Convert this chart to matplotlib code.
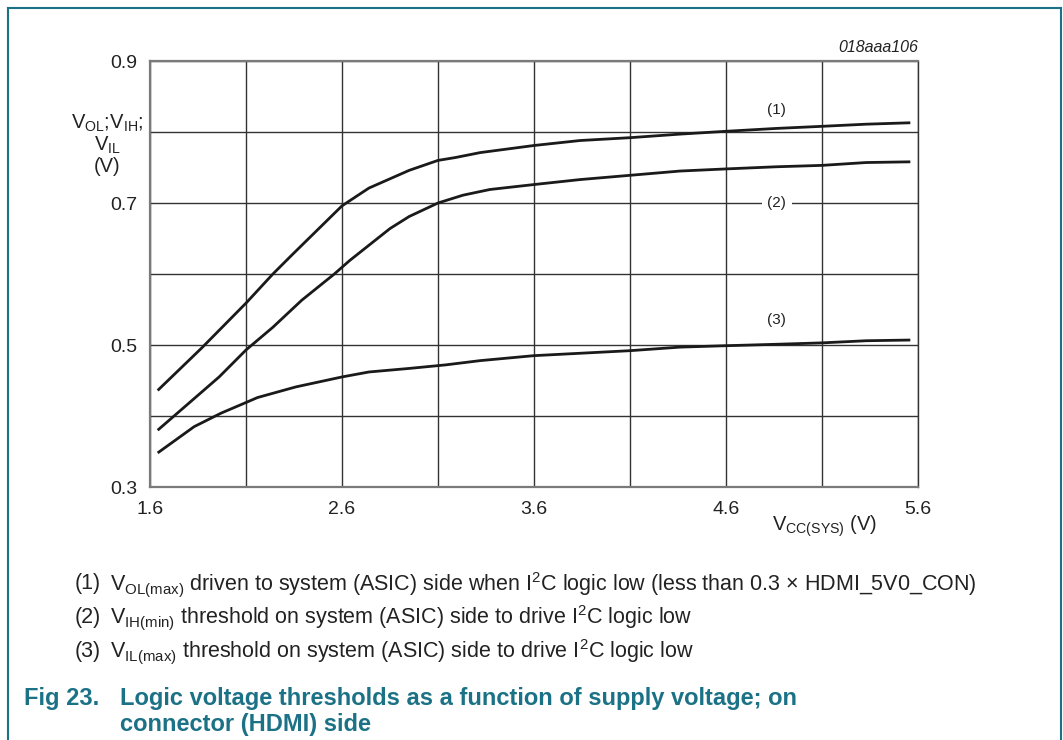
import matplotlib
matplotlib.use("Agg")
import matplotlib.pyplot as plt
from matplotlib.lines import Line2D

plt.rcParams["font.family"] = ["Liberation Sans", "DejaVu Sans"]
plt.rcParams["mathtext.fontset"] = "custom"
plt.rcParams["mathtext.rm"] = "Liberation Sans"
plt.rcParams["mathtext.it"] = "Liberation Sans:italic"

# curve (1): VOL(max)
vcc_1 = [1.64, 1.87, 2.1, 2.24, 2.34, 2.6, 2.74, 2.95, 3.1, 3.19, 3.32, 3.6,
         3.84, 4.1, 4.36, 4.6, 4.86, 5.1, 5.33, 5.56]
vol_1 = [0.436, 0.496, 0.559, 0.600, 0.627, 0.696, 0.721, 0.746, 0.760, 0.764,
         0.771, 0.781, 0.788, 0.792, 0.797, 0.801, 0.805, 0.808, 0.811, 0.813]
# curve (2): VIH(min)
vcc_2 = [1.64, 1.96, 2.1, 2.24, 2.39, 2.56, 2.64, 2.85, 2.95, 3.1, 3.23, 3.37,
         3.6, 3.84, 4.1, 4.36, 4.6, 4.86, 5.1, 5.33, 5.56]
vih_2 = [0.380, 0.455, 0.493, 0.525, 0.563, 0.600, 0.619, 0.664, 0.681, 0.700,
         0.711, 0.719, 0.726, 0.733, 0.739, 0.745, 0.748, 0.751, 0.753, 0.757, 0.758]
# curve (3): VIL(max)
vcc_3 = [1.64, 1.83, 1.97, 2.1, 2.16, 2.36, 2.6, 2.74, 2.95, 3.14, 3.32, 3.6,
         4.1, 4.36, 4.6, 4.86, 5.1, 5.33, 5.56]
vil_3 = [0.348, 0.385, 0.404, 0.419, 0.426, 0.441, 0.455, 0.462, 0.467, 0.472,
         0.478, 0.485, 0.492, 0.497, 0.499, 0.501, 0.503, 0.506, 0.507]

x_ticks = [1.6, 2.1, 2.6, 3.1, 3.6, 4.1, 4.6, 5.1, 5.6]
x_labels = ["1.6", "", "2.6", "", "3.6", "", "4.6", "", "5.6"]
y_ticks = [0.3, 0.4, 0.5, 0.6, 0.7, 0.8, 0.9]
y_labels = ["0.3", "", "0.5", "", "0.7", "", "0.9"]

notes = [
    ("(1)", r"V$_{\mathrm{OL(max)}}$ driven to system (ASIC) side when I$^{\mathrm{2}}$C logic low (less than 0.3 $\times$ HDMI_5V0_CON)"),
    ("(2)", r"V$_{\mathrm{IH(min)}}$ threshold on system (ASIC) side to drive I$^{\mathrm{2}}$C logic low"),
    ("(3)", r"V$_{\mathrm{IL(max)}}$ threshold on system (ASIC) side to drive I$^{\mathrm{2}}$C logic low"),
]

W, H = 1063, 740
TEAL = "#1b7185"
INK = "#222222"
fig = plt.figure(figsize=(W / 100, H / 100), dpi=100)


def fx(px):
    return px / W


def fy(py):
    return 1 - py / H


ax = fig.add_axes([fx(150), fy(487), fx(918) - fx(150), fy(61) - fy(487)])
ax.set_xlim(1.6, 5.6)
ax.set_ylim(0.3, 0.9)

for xv, yv in ((vcc_1, vol_1), (vcc_2, vih_2), (vcc_3, vil_3)):
    ax.plot(xv, yv, color="#1a1a1a", linewidth=2.0, solid_capstyle="butt", zorder=3)

ax.set_xticks(x_ticks)
ax.set_xticklabels(x_labels)
ax.set_yticks(y_ticks)
ax.set_yticklabels(y_labels)
ax.tick_params(length=0, labelsize=14, colors=INK)
ax.tick_params(axis="x", pad=10)
ax.tick_params(axis="y", pad=9)
ax.grid(True, color="#333333", linewidth=1.0)
ax.set_axisbelow(True)
for side in ("left", "bottom", "top"):
    ax.spines[side].set_color("#7a7a7a")
    ax.spines[side].set_linewidth(1.6)
ax.spines["right"].set_color("#333333")
ax.spines["right"].set_linewidth(1.0)

# curve labels
ax.text(4.864, 0.831, "(1)", fontsize=11, ha="center", va="center", color=INK)
ax.text(4.864, 0.7, "(2)", fontsize=11, ha="center", va="center", color=INK,
        bbox=dict(facecolor="white", edgecolor="none", pad=4), zorder=4)
ax.text(4.864, 0.535, "(3)", fontsize=11, ha="center", va="center", color=INK)

fig.text(fx(918), fy(48), "018aaa106", fontsize=11.5, style="italic",
         ha="right", va="center", color=INK)

# axis titles
fig.text(fx(107), fy(123), r"V$_{\mathrm{OL}}$;V$_{\mathrm{IH}}$;", fontsize=14.5,
         ha="center", va="center", color=INK)
fig.text(fx(107), fy(145), r"V$_{\mathrm{IL}}$", fontsize=14.5,
         ha="center", va="center", color=INK)
fig.text(fx(107), fy(167), "(V)", fontsize=14.5, ha="center", va="center", color=INK)
fig.text(fx(877), fy(526), r"V$_{\mathrm{CC(SYS)}}$ (V)", fontsize=14.5,
         ha="right", va="center", color=INK)

# notes
for i, (num, txt) in enumerate(notes):
    y = 584 + i * 34
    fig.text(fx(75), fy(y), num, fontsize=15.5, ha="left", va="center", color=INK)
    fig.text(fx(110), fy(y), txt, fontsize=15.5, ha="left", va="center", color=INK)

# caption
fig.text(fx(24), fy(698), "Fig 23.", fontsize=17, fontweight="bold",
         ha="left", va="center", color=TEAL)
fig.text(fx(120), fy(698), "Logic voltage thresholds as a function of supply voltage; on",
         fontsize=17, fontweight="bold", ha="left", va="center", color=TEAL)
fig.text(fx(120), fy(725), "connector (HDMI) side", fontsize=17, fontweight="bold",
         ha="left", va="center", color=TEAL)

# page frame
fig.add_artist(Line2D([fx(7.5), fx(7.5)], [fy(7.5), 0], color=TEAL, linewidth=1.5))
fig.add_artist(Line2D([fx(7.5), fx(1060.5)], [fy(7.5), fy(7.5)], color=TEAL, linewidth=1.5))
fig.add_artist(Line2D([fx(1060.5), fx(1060.5)], [fy(7.5), 0], color=TEAL, linewidth=1.5))

fig.savefig("out.png", dpi=100)
